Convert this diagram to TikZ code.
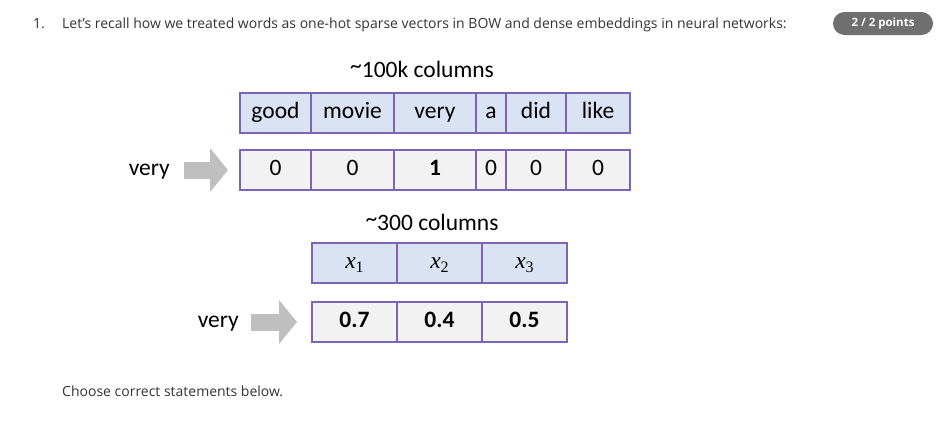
\documentclass[tikz,border=0pt]{standalone}
\usepackage{fontspec}
\setmainfont{Open Sans}
\newfontfamily\cellfont{Carlito}
\newfontfamily\embfont{Liberation Serif}
\usetikzlibrary{arrows.meta,positioning}
\definecolor{qink}{HTML}{333333}
\definecolor{cellline}{HTML}{7D64B4}
\definecolor{cellblue}{HTML}{DAE3F3}
\definecolor{cellgray}{HTML}{F2F2F2}
\definecolor{arrowgray}{HTML}{BFBFBF}
\definecolor{badgegray}{HTML}{6F6F6F}
\newcommand\embx[1]{{\embfont\itshape x}\raisebox{-4pt}{\embfont\fontsize{16}{16}\selectfont #1}}
\newcommand\approxsign{\raisebox{4pt}{\symbol{"7E}}}

\begin{document}
\begin{tikzpicture}[x=1pt, y=-1pt,
  font=\fontsize{14}{16}\selectfont,
  qtext/.style = {text=qink, inner sep=0pt, anchor=base west},
  badge/.style = {fill=badgegray, rounded corners=11.5pt, minimum width=100pt, minimum height=23pt,
                  text=white, inner sep=0pt, font=\fontsize{11.5}{13}\selectfont\bfseries},
  word/.style  = {draw=cellline, line width=1.5pt, fill=cellblue, minimum height=40pt,
                  text height=15pt, text depth=4pt,
                  inner sep=0pt, outer sep=0pt, font=\cellfont\fontsize{23.5}{25}\selectfont},
  val/.style   = {word, fill=cellgray},
  colhead/.style = {inner sep=0pt, anchor=base, font=\cellfont\fontsize{23.5}{25}\selectfont},
  tok/.style   = {inner sep=0pt, text height=15pt, text depth=4pt,
                  font=\cellfont\fontsize{23.5}{25}\selectfont},
  fat/.style   = {draw=arrowgray, line width=17pt, -{Triangle[length=18pt, width=43pt]}},
]
\useasboundingbox (0,0) rectangle (946,421);

% --- the question line and the score badge ---------------------------------
\node[qtext] (num) at (33,28) {1.};
\node[qtext] (question) at (62,28)
  {Let's recall how we treated words as one-hot sparse vectors in BOW and dense embeddings in neural networks:};
\node[badge] (score) at (883,23.5) {2 / 2 points};

% --- one-hot vector ---------------------------------------------------------
\node[colhead] (cols1) at (422,77) {\approxsign100k columns};

\node[word, minimum width=71pt, anchor=north west] (cgood) at (240,93) {good};
\node[word, minimum width=83pt, right=0pt of cgood] (cmovie) {movie};
\node[word, minimum width=82pt, right=0pt of cmovie] (cvery) {very};
\node[word, minimum width=30pt, right=0pt of cvery] (ca) {a};
\node[word, minimum width=60pt, right=0pt of ca] (cdid) {did};
\node[word, minimum width=64pt, right=0pt of cdid] (clike) {like};

\node[val, minimum width=71pt, below=17pt of cgood] (h1) {0};
\node[val, minimum width=83pt, right=0pt of h1] (h2) {0};
\node[val, minimum width=82pt, right=0pt of h2] (h3) {\textbf{1}};
\node[val, minimum width=30pt, right=0pt of h3] (h4) {0};
\node[val, minimum width=60pt, right=0pt of h4] (h5) {0};
\node[val, minimum width=64pt, right=0pt of h5] (h6) {0};

\node[tok, left=70pt of h1] (tok1) {very};
\draw[fat, shorten <=14pt, shorten >=12pt] (tok1.east) -- (h1.west);

% --- dense embedding --------------------------------------------------------
\node[colhead] (cols2) at (432,230) {\approxsign300 columns};

\node[word, minimum width=85pt, anchor=north west] (d1) at (312,243) {\embx{1}};
\node[word, minimum width=85pt, right=0pt of d1] (d2) {\embx{2}};
\node[word, minimum width=85pt, right=0pt of d2] (d3) {\embx{3}};

\node[val, minimum width=85pt, below=19pt of d1] (e1) {\textbf{0.7}};
\node[val, minimum width=85pt, right=0pt of e1] (e2) {\textbf{0.4}};
\node[val, minimum width=85pt, right=0pt of e2] (e3) {\textbf{0.5}};

\node[tok, left=73pt of e1] (tok2) {very};
\draw[fat, shorten <=12pt, shorten >=15pt] (tok2.east) -- (e1.west);

\node[qtext] (prompt) at (62,396) {Choose correct statements below.};
\end{tikzpicture}
\end{document}
